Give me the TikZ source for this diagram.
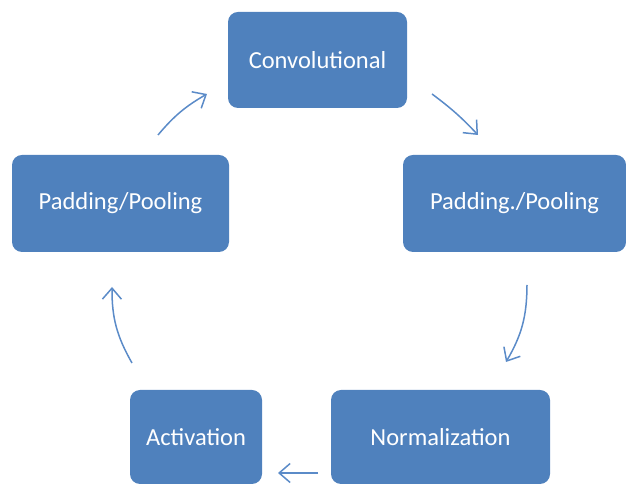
\documentclass[tikz,border=0pt]{standalone}
\usepackage{fontspec}
\setmainfont{Carlito}
\usetikzlibrary{arrows.meta}
\definecolor{boxblue}{HTML}{4F81BD}
\definecolor{arrowblue}{HTML}{5B8BC8}
\begin{document}
\begin{tikzpicture}[x=1pt,y=1pt,
  stagebox/.style={draw=none, fill=boxblue, rounded corners=10pt, text=white,
    font=\fontsize{24.5}{28}\selectfont, inner sep=0pt},
  cyclearrow/.style={draw=arrowblue, line width=1.5pt,
    -{Straight Barb[length=11pt,width=19pt,line width=1.5pt]}}]
\useasboundingbox (0,0) rectangle (626,486);
\node[stagebox, minimum width=179pt, minimum height=96pt] (conv) at (317.5,426) {Convolutional};
\node[stagebox, minimum width=217pt, minimum height=97pt] (padl) at (120.5,282.5) {Padding/Pooling};
\node[stagebox, minimum width=223pt, minimum height=97pt] (padr) at (514.5,282.5) {Padding./Pooling};
\node[stagebox, minimum width=132pt, minimum height=94pt] (act) at (196,49) {Activation};
\node[stagebox, minimum width=219pt, minimum height=94pt] (norm) at (440.5,49) {Normalization};
\coordinate (a1s) at (158,351);
\coordinate (a1e) at (207,392);
\coordinate (a2s) at (432,392);
\coordinate (a2e) at (478,351);
\coordinate (a3s) at (527,201);
\coordinate (a3e) at (506,124);
\coordinate (a4s) at (318,13);
\coordinate (a4e) at (278,13);
\coordinate (a5s) at (132,123);
\coordinate (a5e) at (112,199);
\draw[cyclearrow] (a1s) to[bend left=10] (a1e);
\draw[cyclearrow] (a2s) to[bend left=5] (a2e);
\draw[cyclearrow] (a3s) to[bend left=15] (a3e);
\draw[cyclearrow] (a4s) -- (a4e);
\draw[cyclearrow] (a5s) to[bend left=15] (a5e);
\end{tikzpicture}
\end{document}
